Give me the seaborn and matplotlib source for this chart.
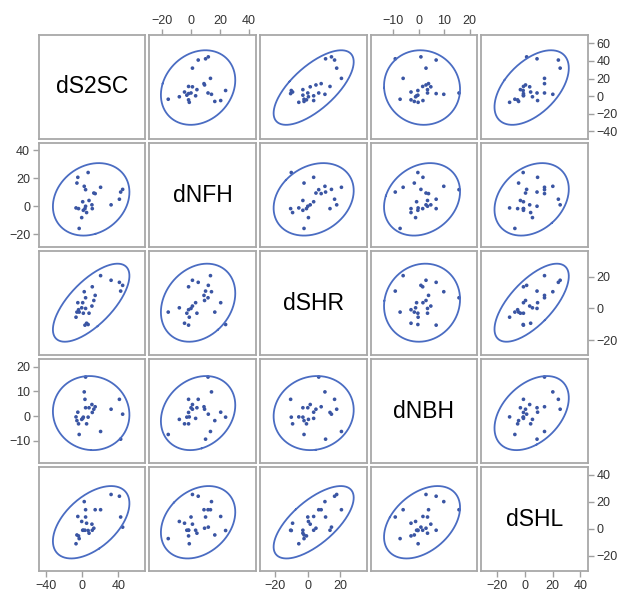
import numpy as np
import pandas as pd
import matplotlib
matplotlib.use("Agg")
import matplotlib.pyplot as plt
import seaborn as sns

variables = ["dS2SC", "dNFH", "dSHR", "dNBH", "dSHL"]

dS2SC = [-7.0, -6.0, -5.0, -4.2, -3.5, -0.7, 0.4, 1.1, 2.1, 2.9, 3.6, 3.6,
         4.7, 6.4, 7.4, 10.6, 11.0, 12.7, 14.2, 20.2, 31.8, 41.0, 42.4, 44.6]
dNFH = [-1.2, 16.5, 20.6, -1.7, -15.8, -8.1, 3.2, -2.9, 14.2, -1.7, 11.8, 0.0,
        -4.5, 24.0, 4.1, 1.0, -1.7, 9.4, 9.0, 13.5, 1.0, 5.0, 10.1, 12.0]
dSHR = [-5.5, -2.3, 3.6, -0.8, -2.3, 0.4, 3.6, -3.0, 10.5, -10.5, 6.7, 0.0,
        -9.3, -10.1, -3.0, 1.5, 13.6, 5.0, 8.2, 20.6, 17.7, 16.4, 10.9, 14.5]
dNBH = [-0.3, -1.8, 1.6, -3.1, -7.4, -1.3, -0.9, -0.4, 9.8, 6.8, 15.8, 3.4,
        -3.1, -0.4, 3.4, 4.7, 1.5, 2.8, 3.8, -6.2, 2.8, 6.8, -9.3, 0.8]
dSHL = [-11.0, -4.5, 9.2, -5.2, -7.2, 5.5, -1.0, -1.0, 20.2, -1.0, 14.2, 8.8,
        4.2, -1.2, -3.2, 3.5, -1.0, 0.5, 14.2, 14.2, 25.5, 24.2, 8.8, 1.3]

df = pd.DataFrame({"dS2SC": dS2SC, "dNFH": dNFH, "dSHR": dSHR,
                   "dNBH": dNBH, "dSHL": dSHL})

# axis ranges / ticks
lims = {"dS2SC": (-48.5, 69.5), "dNFH": (-29, 45), "dSHR": (-29.3, 36),
        "dNBH": (-19, 23), "dSHL": (-31.4, 45.6)}
xticks = {"dS2SC": [-40, 0, 40], "dNFH": [-20, 0, 20, 40], "dSHR": [-20, 0, 20],
          "dNBH": [-10, 0, 10, 20], "dSHL": [-20, 0, 20, 40]}
yticks = {"dS2SC": [-40, -20, 0, 20, 40, 60], "dNFH": [-20, 0, 20, 40],
          "dSHR": [-20, 0, 20], "dNBH": [-10, 0, 10, 20], "dSHL": [-20, 0, 20, 40]}

F_CRIT = 3.4434  # F(2, 22) 95% quantile, n = 24

DOT = "#3a55a3"
LINE = "#4a6cc2"


def pred_ellipse(x, y, color=None, label=None, **kws):
    ax = plt.gca()
    x = np.asarray(x, float)
    y = np.asarray(y, float)
    n = len(x)
    cov = np.cov(x, y)
    c2 = 2 * (n - 1) / (n - 2) * (1 + 1 / n) * F_CRIT
    vals, vecs = np.linalg.eigh(cov)
    t = np.linspace(0, 2 * np.pi, 240)
    circ = np.vstack([np.cos(t), np.sin(t)])
    pts = vecs @ (np.sqrt(vals * c2)[:, None] * circ)
    ax.plot(x.mean() + pts[0], y.mean() + pts[1], color=LINE, lw=1.3)


plt.rcParams["font.family"] = ["Liberation Sans", "DejaVu Sans"]

g = sns.PairGrid(df, vars=variables, height=1.2, despine=False)
g.map_offdiag(sns.scatterplot, s=7, color=DOT, edgecolor="none", linewidth=0)
g.map_offdiag(pred_ellipse)

n = len(variables)
for i in range(n):
    for j in range(n):
        ax = g.axes[i, j]
        ax.set_xlabel("")
        ax.set_ylabel("")
        for sp in ax.spines.values():
            sp.set_color("#a8a8a8")
            sp.set_linewidth(1.3)
        ax.set_xlim(lims[variables[j]])
        ax.set_ylim(lims[variables[i]])
        ax.set_xticks(xticks[variables[j]])
        ax.set_yticks(yticks[variables[i]])
        ax.tick_params(bottom=False, top=False, left=False, right=False,
                       labelbottom=False, labeltop=False,
                       labelleft=False, labelright=False,
                       labelsize=9, labelcolor="#333333", color="#a0a0a0",
                       length=4, width=1, pad=2)
        if i == n - 1 and j % 2 == 0:
            ax.tick_params(bottom=True, labelbottom=True)
        if i == 0 and j % 2 == 1:
            ax.tick_params(top=True, labeltop=True)
        if j == 0 and i % 2 == 1:
            ax.tick_params(left=True, labelleft=True)
        if j == n - 1 and i % 2 == 0:
            ax.tick_params(right=True, labelright=True)
        if i == j:
            ax.text(0.5, 0.5, variables[i], transform=ax.transAxes,
                    ha="center", va="center", fontsize=16.5, color="black")

g.figure.set_size_inches(6.17, 5.92)
g.figure.subplots_adjust(left=0.0624, right=0.953, top=0.941, bottom=0.035,
                         wspace=0.038, hspace=0.04)
g.figure.savefig("out.png", dpi=100)
